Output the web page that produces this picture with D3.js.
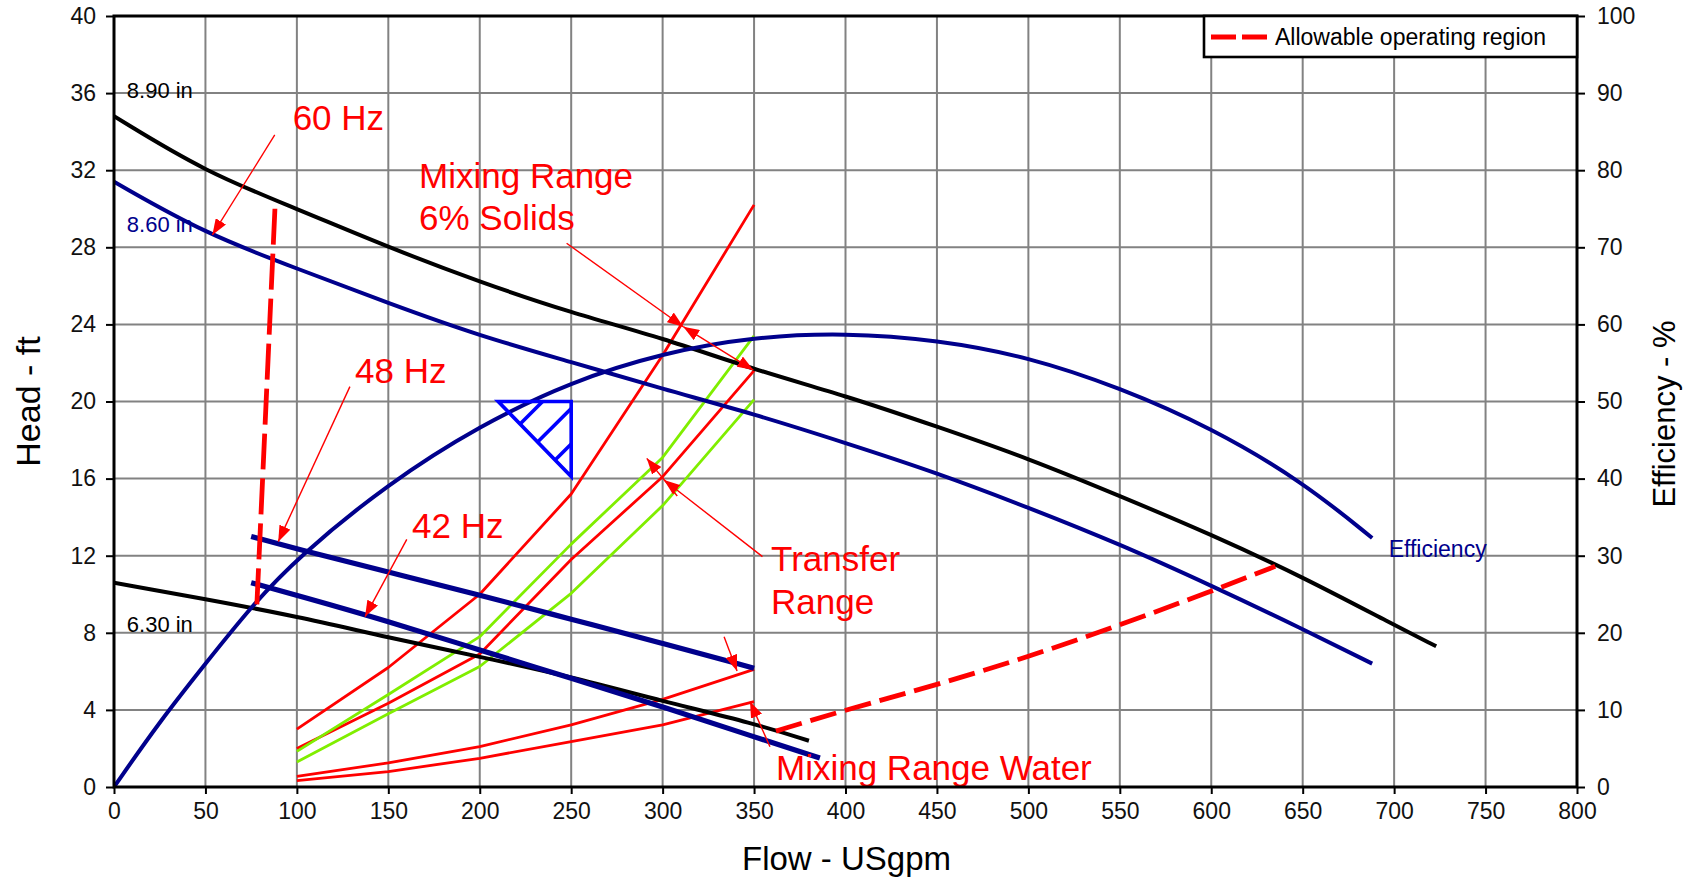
<!DOCTYPE html>
<html>
<head>
<meta charset="utf-8">
<script src="https://cdn.jsdelivr.net/npm/d3@7/dist/d3.min.js"></script>
<style>
  html, body { margin: 0; padding: 0; background: #fff; }
  svg { display: block; font-family: 'Liberation Sans', Arial, sans-serif; }
</style>
</head>
<body>
<svg id="chart" width="1701" height="881"></svg>
<script>
// tick labels
const flowTicks = [0, 50, 100, 150, 200, 250, 300, 350, 400, 450, 500, 550, 600, 650, 700, 750, 800];
const headTicks = [0, 4, 8, 12, 16, 20, 24, 28, 32, 36, 40];
const effTicks = [0, 10, 20, 30, 40, 50, 60, 70, 80, 90, 100];

// pump curves, [flow USgpm, head ft]
const head890 = [[0, 34.8], [50, 31.9], [100, 30.0], [150, 28.0], [200, 26.2], [250, 24.6], [300, 23.3],
  [350, 21.65], [400, 20.3], [450, 18.7], [500, 17.05], [550, 15.1], [600, 13.1], [650, 10.9], [700, 8.4], [723, 7.3]];
const head860 = [[0, 31.4], [50, 28.7], [100, 26.9], [150, 25.1], [200, 23.4], [250, 22.05], [300, 20.65],
  [350, 19.35], [400, 17.85], [450, 16.3], [500, 14.5], [550, 12.6], [600, 10.45], [650, 8.2], [688, 6.4]];
const head630 = [[0, 10.6], [50, 9.75], [100, 8.85], [150, 7.75], [200, 6.76], [250, 5.72], [300, 4.45], [350, 3.3], [380, 2.4]];
const head48Hz = [[75, 13.0], [100, 12.35], [150, 11.15], [200, 9.96], [250, 8.7], [300, 7.46], [350, 6.16]];
const head42Hz = [[75, 10.6], [100, 9.95], [150, 8.6], [200, 7.1], [250, 5.65], [300, 4.17], [350, 2.6], [386, 1.5]];

// efficiency, [flow USgpm, %]
const efficiency = [[0, 0], [25, 8.5], [50, 16.0], [75, 23.4], [100, 29.7], [150, 39.4], [200, 46.9], [250, 52.6],
  [300, 56.3], [350, 58.4], [400, 58.9], [450, 58.0], [500, 55.8], [550, 51.8], [600, 46.6], [650, 39.6], [688, 32.3]];

// system curves, [flow USgpm, head ft]
const solids6High = [[100, 3.0], [150, 6.2], [200, 10.0], [250, 15.2], [300, 22.4], [350, 30.2]];
const solids6Low = [[100, 2.0], [150, 4.35], [200, 6.9], [250, 11.8], [300, 16.1], [350, 21.6]];
const transferHigh = [[100, 1.85], [150, 4.8], [200, 7.8], [250, 12.6], [300, 17.1], [350, 23.4]];
const transferLow = [[100, 1.3], [150, 3.8], [200, 6.25], [250, 10.05], [300, 14.6], [350, 20.1]];
const waterHigh = [[100, 0.55], [150, 1.25], [200, 2.1], [250, 3.22], [300, 4.55], [350, 6.1]];
const waterLow = [[100, 0.33], [150, 0.8], [200, 1.49], [250, 2.35], [300, 3.22], [350, 4.43]];

// allowable operating region boundaries
const allowableMin = [[88, 30.0], [78, 9.2]];
const allowableMax = [[362, 2.9], [400, 4.0], [450, 5.3], [500, 6.75], [550, 8.4], [600, 10.15], [635, 11.45]];

// best efficiency marker, [flow, head]
const bepPoint = [250, 20];

const curveLabels = ['8.90 in', '8.60 in', '6.30 in', 'Efficiency'];
const noteLabels = ['60 Hz', 'Mixing Range', '6% Solids', '48 Hz', '42 Hz', 'Transfer', 'Range', 'Mixing Range Water'];

// ---- layout ----
const W = 1701, H = 881;
const plot = { left: 114, right: 1577, top: 16, bottom: 787 };
const NAVY = '#00008c';
const RED = '#ff0000';
const GREEN = '#80ee00';
const GRID = '#828282';

const x = d3.scaleLinear().domain([0, 800]).range([plot.left, plot.right]);
const yHead = d3.scaleLinear().domain([0, 40]).range([plot.bottom, plot.top]);
const yEff = d3.scaleLinear().domain([0, 100]).range([plot.bottom, plot.top]);

const svg = d3.select('#chart');

svg.append('rect').attr('width', W).attr('height', H).attr('fill', '#fff');

const defs = svg.append('defs');
defs.append('marker')
  .attr('id', 'arrow')
  .attr('viewBox', '0 0 16 12')
  .attr('refX', 16)
  .attr('refY', 6)
  .attr('markerWidth', 16)
  .attr('markerHeight', 12)
  .attr('markerUnits', 'userSpaceOnUse')
  .attr('orient', 'auto-start-reverse')
  .append('path')
  .attr('d', 'M0,0 L16,6 L0,12 Z')
  .attr('fill', RED);

defs.append('clipPath').attr('id', 'plot-clip')
  .append('rect')
  .attr('x', plot.left).attr('y', plot.top)
  .attr('width', plot.right - plot.left).attr('height', plot.bottom - plot.top);

// grid
const grid = svg.append('g').attr('class', 'grid');
grid.selectAll('line.vgrid')
  .data(flowTicks.slice(1, -1))
  .enter()
  .append('line')
  .attr('x1', d => x(d)).attr('x2', d => x(d))
  .attr('y1', plot.top).attr('y2', plot.bottom)
  .attr('stroke', GRID).attr('stroke-width', 2);
grid.selectAll('line.hgrid')
  .data(headTicks.slice(1, -1))
  .enter()
  .append('line')
  .attr('y1', d => yHead(d)).attr('y2', d => yHead(d))
  .attr('x1', plot.left).attr('x2', plot.right)
  .attr('stroke', GRID).attr('stroke-width', 2);

// axes
function styleAxis (g) {
  g.select('.domain').remove();
  g.selectAll('.tick line').attr('stroke', '#000').attr('stroke-width', 2);
  g.selectAll('.tick text')
    .attr('fill', '#111')
    .style('font-size', '23px')
    .style('font-family', "'Liberation Sans', Arial, sans-serif");
}

svg.append('g')
  .attr('transform', `translate(0,${plot.bottom})`)
  .call(d3.axisBottom(x).tickValues(flowTicks).tickSize(7).tickPadding(9).tickFormat(d3.format('d')))
  .call(styleAxis);

svg.append('g')
  .attr('transform', `translate(${plot.left},0)`)
  .call(d3.axisLeft(yHead).tickValues(headTicks).tickSize(8).tickPadding(10).tickFormat(d3.format('d')))
  .call(styleAxis);

svg.append('g')
  .attr('transform', `translate(${plot.right},0)`)
  .call(d3.axisRight(yEff).tickValues(effTicks).tickSize(8).tickPadding(12).tickFormat(d3.format('d')))
  .call(styleAxis);

// axis titles
svg.append('text')
  .attr('x', (plot.left + plot.right) / 2 + 1)
  .attr('y', 870)
  .attr('text-anchor', 'middle')
  .style('font-size', '33px')
  .attr('fill', '#000')
  .text('Flow - USgpm');

svg.append('text')
  .attr('transform', `translate(40,${(plot.top + plot.bottom) / 2}) rotate(-90)`)
  .attr('text-anchor', 'middle')
  .style('font-size', '34px')
  .attr('fill', '#000')
  .text('Head - ft');

svg.append('text')
  .attr('transform', 'translate(1675,414) rotate(-90)')
  .attr('text-anchor', 'middle')
  .style('font-size', '31px')
  .attr('fill', '#000')
  .text('Efficiency - %');

// curves
const body = svg.append('g').attr('clip-path', 'url(#plot-clip)');

const headLine = d3.line()
  .x(d => x(d[0]))
  .y(d => yHead(d[1]));
const smoothHead = d3.line()
  .curve(d3.curveBasis)
  .x(d => x(d[0]))
  .y(d => yHead(d[1]));
const effLine = d3.line()
  .curve(d3.curveBasis)
  .x(d => x(d[0]))
  .y(d => yEff(d[1]));

function drawPath (data, gen, color, width, dash) {
  const p = body.append('path')
    .datum(data)
    .attr('d', gen)
    .attr('fill', 'none')
    .attr('stroke', color)
    .attr('stroke-width', width)
    .attr('stroke-linejoin', 'round');
  if (dash) p.attr('stroke-dasharray', dash);
  return p;
}

// system curves first, pump curves on top
drawPath(waterHigh, headLine, RED, 2.8);
drawPath(waterLow, headLine, RED, 2.8);
drawPath(solids6High, headLine, RED, 2.8);
drawPath(solids6Low, headLine, RED, 2.8);
drawPath(transferHigh, headLine, GREEN, 2.8);
drawPath(transferLow, headLine, GREEN, 2.8);

drawPath(head630, smoothHead, '#000', 4);
drawPath(head890, smoothHead, '#000', 4);
drawPath(head860, smoothHead, NAVY, 4);
drawPath(efficiency, effLine, NAVY, 4);
drawPath(head48Hz, smoothHead, NAVY, 5.2);
drawPath(head42Hz, smoothHead, NAVY, 5.2);

drawPath(allowableMin, headLine, RED, 4.8, '36,9');
drawPath(allowableMax, smoothHead, RED, 4.8, '27,9');

// best efficiency marker (hatched triangle)
const bx = x(bepPoint[0]);
const by = yHead(bepPoint[1]);
const tri = svg.append('g').attr('transform', `translate(${bx},${by})`)
  .attr('stroke', '#0000ff').attr('stroke-width', 3.6).attr('fill', 'none');
tri.append('path').attr('d', 'M-73,0 L0,0 L0,75 Z').attr('stroke-linejoin', 'miter');
[0.3, 0.54, 0.78].forEach(t => {
  const sx = -73 + 73 * t;
  const sy = 75 * t;
  const k = Math.min(sy, -sx);
  tri.append('line')
    .attr('x1', sx).attr('y1', sy)
    .attr('x2', sx + k).attr('y2', sy - k);
});

// curve labels
const labelPos = [[7, 35.75, '#000'], [7, 28.8, NAVY], [7, 8.04, '#000'], [697, 11.93, NAVY]];
svg.selectAll('text.curve-label')
  .data(curveLabels)
  .enter()
  .append('text')
  .attr('class', 'curve-label')
  .attr('x', (d, i) => x(labelPos[i][0]))
  .attr('y', (d, i) => yHead(labelPos[i][1]))
  .attr('fill', (d, i) => labelPos[i][2])
  .style('font-size', (d, i) => i === 3 ? '23px' : '22px')
  .text(d => d);

// red annotations
const notePos = [[97.7, 34.09], [166.8, 31.08], [166.8, 28.9], [131.8, 20.96], [163.0, 12.92],
  [359.3, 11.21], [359.3, 8.98], [362.0, 0.36]];
svg.selectAll('text.note')
  .data(noteLabels)
  .enter()
  .append('text')
  .attr('class', 'note')
  .attr('x', (d, i) => x(notePos[i][0]))
  .attr('y', (d, i) => yHead(notePos[i][1]))
  .attr('fill', RED)
  .style('font-size', '35px')
  .text(d => d);

// leader arrows: [fromFlow, fromHead, toFlow, toHead, headAtStart]
const leaders = [
  [87.9, 33.83, 53.8, 28.64, false],
  [129.0, 20.77, 89.8, 12.73, false],
  [160.1, 12.85, 137.3, 8.84, false],
  [247.5, 28.21, 311.3, 23.88, false],
  [311.3, 23.88, 349.6, 21.63, true],
  [354.6, 11.95, 300.8, 15.93, false],
  [308.0, 15.1, 291.3, 17.05, false],
  [333.6, 7.80, 340.7, 6.02, false],
  [358.7, 2.09, 347.8, 4.43, false]
];
const arrows = svg.append('g');
leaders.forEach(l => {
  const ln = arrows.append('line')
    .attr('x1', x(l[0])).attr('y1', yHead(l[1]))
    .attr('x2', x(l[2])).attr('y2', yHead(l[3]))
    .attr('stroke', RED).attr('stroke-width', 1.4)
    .attr('marker-end', 'url(#arrow)');
  if (l[4]) ln.attr('marker-start', 'url(#arrow)');
});

// frame
svg.append('rect')
  .attr('x', plot.left).attr('y', plot.top)
  .attr('width', plot.right - plot.left).attr('height', plot.bottom - plot.top)
  .attr('fill', 'none').attr('stroke', '#000').attr('stroke-width', 3);

// legend
const legend = svg.append('g');
legend.append('rect')
  .attr('x', 1204).attr('y', plot.top)
  .attr('width', plot.right - 1204).attr('height', 41)
  .attr('fill', '#fff').attr('stroke', '#000').attr('stroke-width', 2.6);
legend.append('line')
  .attr('x1', 1211).attr('x2', 1267).attr('y1', 37).attr('y2', 37)
  .attr('stroke', RED).attr('stroke-width', 5).attr('stroke-dasharray', '25,6');
legend.append('text')
  .attr('x', 1275).attr('y', 45)
  .attr('fill', '#000')
  .style('font-size', '23px')
  .text('Allowable operating region');
</script>
</body>
</html>
